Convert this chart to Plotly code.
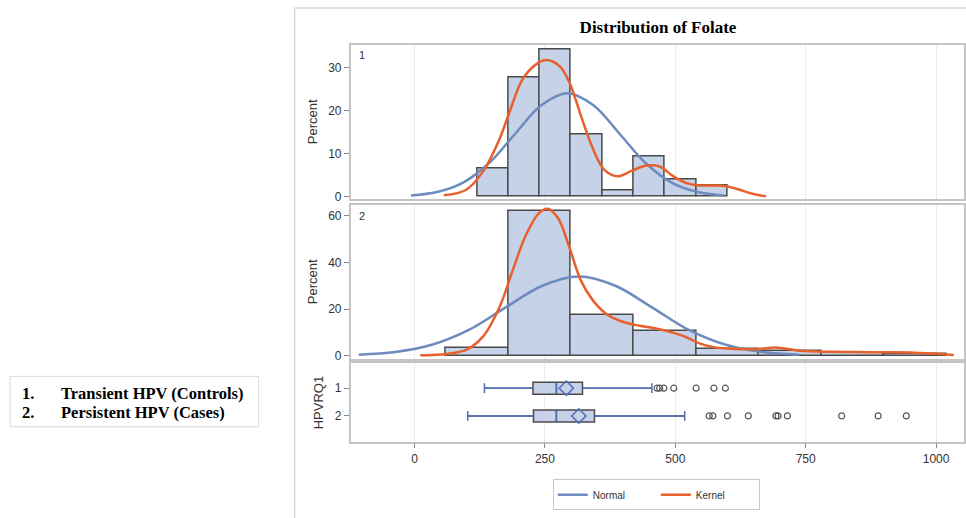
import plotly.graph_objects as go

# ---------------- data ----------------
groups = ["1", "2"]

# Histogram, group 1 (bin width 60)
g1_bin_mid = [150, 210, 270, 330, 390, 450, 510, 570]
g1_bin_width = 60
g1_pct = [6.6, 27.6, 34.2, 14.5, 1.3, 9.2, 3.9, 2.6]

# Histogram, group 2 (bin width 120)
g2_bin_mid = [120, 240, 360, 480, 600, 720, 840, 960]
g2_bin_width = 120
g2_pct = [3.3, 62.1, 17.6, 10.5, 2.6, 2.0, 1.3, 0.65]

# Normal curve readings, group 1
g1_norm_x = [-7, 43, 93, 143, 193, 243, 293, 343, 393, 443, 493, 543, 593]
g1_norm_y = [0.27, 1.05, 3.25, 7.8, 14.6, 21.2, 24.0, 21.2, 14.6, 7.8, 3.25, 1.05, 0.27]

# Kernel curve readings, group 1
g1_kern_x = [56, 99, 131, 163, 182, 207, 233, 252, 278, 297, 319, 342, 364, 390,
             415, 444, 470, 495, 520, 546, 575, 598, 623, 650, 674]
g1_kern_y = [0.3, 1.6, 5.8, 13.4, 19.6, 27.2, 30.7, 31.7, 30.3, 26.5, 18.8, 11.1, 6.2, 4.7,
             5.9, 7.2, 7.0, 4.8, 3.2, 2.6, 2.6, 2.4, 1.6, 0.6, 0.05]

# Normal curve readings, group 2
g2_norm_x = [-107, -37, 33, 104, 174, 245, 315, 385, 456, 526, 597, 667, 737]
g2_norm_y = [0.38, 1.5, 4.6, 11.0, 20.6, 30.0, 34.0, 30.0, 20.6, 11.0, 4.6, 1.5, 0.38]

# Kernel curve readings, group 2
g2_kern_x = [11, 61, 99, 131, 163, 188, 214, 239, 255, 275, 297, 319, 342, 367, 399,
             431, 463, 500, 525, 546, 575, 600, 628, 661, 693, 737, 801, 850, 897, 950, 992, 1034]
g2_kern_y = [0.1, 0.7, 2.4, 8.1, 20.9, 36.5, 52.0, 61.3, 63.1, 59.1, 46.4, 32.2, 23.7, 18.0, 14.5,
             12.8, 11.6, 9.5, 7.5, 5.2, 3.5, 3.0, 2.7, 2.8, 3.5, 2.1, 1.6, 1.5, 1.4, 1.3, 0.85, 0.2]

# Box plot statistics
box_pos = [1, 2]
box_low = [134, 102]
box_q1 = [227, 228]
box_med = [272, 272]
box_q3 = [322, 345]
box_high = [455, 518]
box_mean = [291, 315]
g1_outliers = [465, 470, 478, 497, 540, 574, 596]
g2_outliers = [565, 572, 600, 640, 693, 697, 715, 819, 889, 943]

x_ticks = [0, 250, 500, 750, 1000]
y1_ticks = [0, 10, 20, 30]
y2_ticks = [0, 20, 40, 60]

# ---------------- style ----------------
W, H = 966, 518
BAR_FILL = "#c6d2e7"
BAR_LINE = "#4a4a4a"
NORMAL_C = "#6d8bbd"
KERNEL_C = "#e8602c"
WHISK_C = "#4f6fba"
OUTL_C = "#555555"
BORDER_C = "#c4c4c4"
GRID_C = "#ebebeb"
SANS = "Liberation Sans, Arial, sans-serif"
SERIF = "Liberation Serif, Times New Roman, serif"


def px_x(p):
    return p / W


def px_y(p):
    return 1 - p / H


fig = go.Figure()

# Panel 1 histogram
fig.add_trace(go.Bar(x=g1_bin_mid, y=g1_pct, width=g1_bin_width, xaxis="x", yaxis="y",
                     marker=dict(color=BAR_FILL, line=dict(color=BAR_LINE, width=1.5)),
                     showlegend=False, hoverinfo="skip"))
fig.add_trace(go.Scatter(x=g1_norm_x, y=g1_norm_y, mode="lines", xaxis="x", yaxis="y",
                         line=dict(color=NORMAL_C, width=2.5, shape="spline", smoothing=1.0),
                         name="Normal", legendgroup="n", showlegend=True))
fig.add_trace(go.Scatter(x=g1_kern_x, y=g1_kern_y, mode="lines", xaxis="x", yaxis="y",
                         line=dict(color=KERNEL_C, width=2.5, shape="spline", smoothing=1.0),
                         name="Kernel", legendgroup="k", showlegend=True))

# Panel 2 histogram
fig.add_trace(go.Bar(x=g2_bin_mid, y=g2_pct, width=g2_bin_width, xaxis="x2", yaxis="y2",
                     marker=dict(color=BAR_FILL, line=dict(color=BAR_LINE, width=1.5)),
                     showlegend=False, hoverinfo="skip"))
fig.add_trace(go.Scatter(x=g2_norm_x, y=g2_norm_y, mode="lines", xaxis="x2", yaxis="y2",
                         line=dict(color=NORMAL_C, width=2.5, shape="spline", smoothing=1.0),
                         name="Normal", legendgroup="n", showlegend=False))
fig.add_trace(go.Scatter(x=g2_kern_x, y=g2_kern_y, mode="lines", xaxis="x2", yaxis="y2",
                         line=dict(color=KERNEL_C, width=2.5, shape="spline", smoothing=1.0),
                         name="Kernel", legendgroup="k", showlegend=False))

# Panel 3 box plots
for i in range(2):
    fig.add_trace(go.Box(
        y=[box_pos[i]], q1=[box_q1[i]], median=[box_med[i]], q3=[box_q3[i]],
        lowerfence=[box_low[i]], upperfence=[box_high[i]],
        orientation="h", xaxis="x3", yaxis="y3", width=0.43, whiskerwidth=0,
        fillcolor=BAR_FILL, line=dict(color=BAR_LINE, width=1.5),
        showlegend=False, hoverinfo="skip"))
    # whiskers (blue) drawn over
    fig.add_trace(go.Scatter(
        x=[box_low[i], box_q1[i], None, box_q3[i], box_high[i]],
        y=[box_pos[i]] * 2 + [None] + [box_pos[i]] * 2,
        mode="lines", xaxis="x3", yaxis="y3", line=dict(color=WHISK_C, width=1.5),
        showlegend=False, hoverinfo="skip"))
    fig.add_trace(go.Scatter(
        x=[box_low[i], box_high[i]], y=[box_pos[i]] * 2, mode="markers", xaxis="x3", yaxis="y3",
        marker=dict(symbol="line-ns-open", size=7, color=WHISK_C, line=dict(color=WHISK_C, width=1.5)),
        showlegend=False, hoverinfo="skip"))
    # median (blue)
    fig.add_trace(go.Scatter(
        x=[box_med[i], box_med[i]], y=[box_pos[i] - 0.2, box_pos[i] + 0.2], mode="lines",
        xaxis="x3", yaxis="y3", line=dict(color=WHISK_C, width=1.5),
        showlegend=False, hoverinfo="skip"))
    # mean diamond
    fig.add_trace(go.Scatter(
        x=[box_mean[i]], y=[box_pos[i]], mode="markers", xaxis="x3", yaxis="y3",
        marker=dict(symbol="diamond-open", size=11, color=WHISK_C, line=dict(color=WHISK_C, width=1.5)),
        showlegend=False, hoverinfo="skip"))

fig.add_trace(go.Scatter(x=g1_outliers, y=[box_pos[0]] * len(g1_outliers), mode="markers",
                         xaxis="x3", yaxis="y3",
                         marker=dict(symbol="circle-open", size=6, color=OUTL_C,
                                     line=dict(color=OUTL_C, width=1.2)),
                         showlegend=False, hoverinfo="skip"))
fig.add_trace(go.Scatter(x=g2_outliers, y=[box_pos[1]] * len(g2_outliers), mode="markers",
                         xaxis="x3", yaxis="y3",
                         marker=dict(symbol="circle-open", size=6, color=OUTL_C,
                                     line=dict(color=OUTL_C, width=1.2)),
                         showlegend=False, hoverinfo="skip"))

x_range = [-122.6, 1053.6]
x_dom = [px_x(351), px_x(965)]
common_x = dict(range=x_range, domain=x_dom, tickvals=x_ticks, showgrid=True, gridcolor=GRID_C,
                gridwidth=1, zeroline=False, showline=True, linecolor=BORDER_C, linewidth=1.5,
                mirror=True)
common_y = dict(showgrid=False, zeroline=False, showline=True, linecolor=BORDER_C, linewidth=1.5,
                mirror=True, ticks="outside", ticklen=5, tickcolor="#888", tickwidth=1,
                tickfont=dict(family=SANS, size=12, color="#333"),
                title_font=dict(family=SANS, size=13, color="#333"))

fig.update_layout(
    width=W, height=H, margin=dict(l=0, r=0, t=0, b=0),
    paper_bgcolor="white", plot_bgcolor="white", barmode="overlay", bargap=0,
    xaxis=dict(**common_x, anchor="y", showticklabels=False, ticks=""),
    yaxis=dict(**common_y, anchor="x", domain=[px_y(201), px_y(45)], range=[-0.57, 35.3],
               tickvals=y1_ticks, title=dict(text="Percent", standoff=8)),
    xaxis2=dict(**common_x, anchor="y2", showticklabels=False, ticks=""),
    yaxis2=dict(**common_y, anchor="x2", domain=[px_y(362), px_y(207)], range=[-1.28, 64.7],
                tickvals=y2_ticks, title=dict(text="Percent", standoff=8)),
    xaxis3=dict(**common_x, anchor="y3", ticks="outside", ticklen=5, tickcolor="#888",
                tickfont=dict(family=SANS, size=12, color="#333")),
    yaxis3=dict(**common_y, anchor="x3", domain=[px_y(446), px_y(367)], range=[2.93, 0.107],
                tickvals=box_pos, ticktext=groups, title=dict(text="HPVRQ1", standoff=8)),
    legend=dict(orientation="h", x=px_x(657), xanchor="center", y=px_y(484), yanchor="top",
                bordercolor="#c8c8c8", borderwidth=1, bgcolor="white",
                font=dict(family=SANS, size=10, color="#333"), entrywidth=58,
                tracegroupgap=0),
    title=dict(text="<b>Distribution of Folate</b>", x=px_x(658), xanchor="center",
               y=px_y(27), yanchor="middle",
               font=dict(family=SERIF, size=17, color="black")),
    showlegend=True,
)

# Outer frame around the graph
fig.add_shape(type="rect", xref="paper", yref="paper", x0=px_x(295), x1=1.02,
              y0=px_y(530), y1=px_y(8), line=dict(color="#dcdcdc", width=1.5), layer="below")
# Left caption box
fig.add_shape(type="rect", xref="paper", yref="paper", x0=px_x(10), x1=px_x(259),
              y0=px_y(431), y1=px_y(380), line=dict(color="#d9d9d9", width=1))

for label, text, ypx in [("1.", "Transient HPV (Controls)", 397), ("2.", "Persistent HPV (Cases)", 417)]:
    fig.add_annotation(x=px_x(20), y=px_y(ypx), xref="paper", yref="paper", text=f"<b>{label}</b>",
                       showarrow=False, xanchor="left", yanchor="middle",
                       font=dict(family=SERIF, size=16.5, color="black"))
    fig.add_annotation(x=px_x(59), y=px_y(ypx), xref="paper", yref="paper", text=f"<b>{text}</b>",
                       showarrow=False, xanchor="left", yanchor="middle",
                       font=dict(family=SERIF, size=16.5, color="black"))

# Panel inset labels
for g, ypx in zip(groups, [56, 218]):
    fig.add_annotation(x=px_x(362), y=px_y(ypx), xref="paper", yref="paper", text=g,
                       showarrow=False, xanchor="center", yanchor="middle",
                       font=dict(family=SANS, size=11, color="#333"))

fig.write_html("out.html")
